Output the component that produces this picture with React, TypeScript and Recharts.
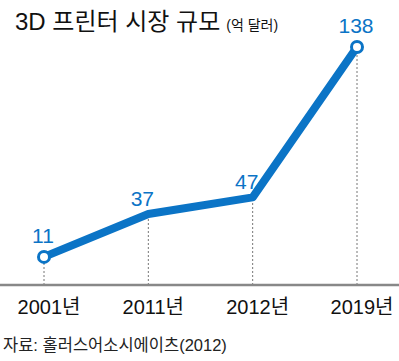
import React from "react";
import { LineChart, Line, XAxis, YAxis, ReferenceLine, LabelList } from "recharts";

const years = ["2001년", "2011년", "2012년", "2019년"];
const sizes = [11, 37, 47, 138];

const BLUE = "#0b74c6";
const FONT = '"Liberation Sans", "Noto Sans CJK KR", sans-serif';

const data = years.map((y, i) => ({ year: y, value: sizes[i] }));
const Y_MIN = -6;

const EndDot = (props: any) => {
  const { cx, cy, index } = props;
  if (index !== 0 && index !== data.length - 1) return <g key={index} />;
  return <circle key={index} cx={cx} cy={cy} r={5.5} fill="#fff" stroke={BLUE} strokeWidth={3} />;
};

const ValueLabel = (props: any) => {
  const { x, y, value, index } = props;
  const isEnd = index === 0 || index === data.length - 1;
  return (
    <text
      x={x + (isEnd ? -1 : -6)}
      y={y - (isEnd ? 14 : 8)}
      textAnchor="middle"
      fill={BLUE}
      fontSize={21}
      fontFamily={FONT}
    >
      {value}
    </text>
  );
};

export default function App() {
  return (
    <div style={{ position: "absolute", top: 0, left: 0, width: 399, height: 361, background: "#fff", fontFamily: FONT }}>
      <div style={{ position: "absolute", left: 15, top: 10, whiteSpace: "nowrap", color: "#111", lineHeight: "24px" }}>
        <span style={{ fontSize: 24 }}>3D 프린터 시장 규모</span>
        <span style={{ fontSize: 14, marginLeft: 6 }}>(억 달러)</span>
      </div>
      <LineChart width={399} height={361} data={data} margin={{ top: 47, right: 0, bottom: 46, left: 0 }}>
        <YAxis hide domain={[Y_MIN, 138]} />
        <XAxis
          dataKey="year"
          padding={{ left: 44, right: 42 }}
          axisLine={{ stroke: "#888", strokeWidth: 2.5 }}
          tickLine={false}
          height={30}
          tick={{ fill: "#111", fontSize: 20, fontFamily: FONT, dx: 5, dy: 7 }}
        />
        {data.map((d) => (
          <ReferenceLine
            key={d.year}
            segment={[{ x: d.year, y: Y_MIN }, { x: d.year, y: d.value }]}
            stroke="#777"
            strokeWidth={1}
            strokeDasharray="2 2"
          />
        ))}
        <Line
          dataKey="value"
          stroke={BLUE}
          strokeWidth={8}
          strokeLinejoin="round"
          dot={<EndDot />}
          activeDot={false}
          isAnimationActive={false}
        >
          <LabelList dataKey="value" content={<ValueLabel />} />
        </Line>
      </LineChart>
      <div style={{ position: "absolute", left: 3, top: 337, fontSize: 16.5, lineHeight: "17px", color: "#222", whiteSpace: "nowrap" }}>
        자료: 홀러스어소시에이츠(2012)
      </div>
    </div>
  );
}
